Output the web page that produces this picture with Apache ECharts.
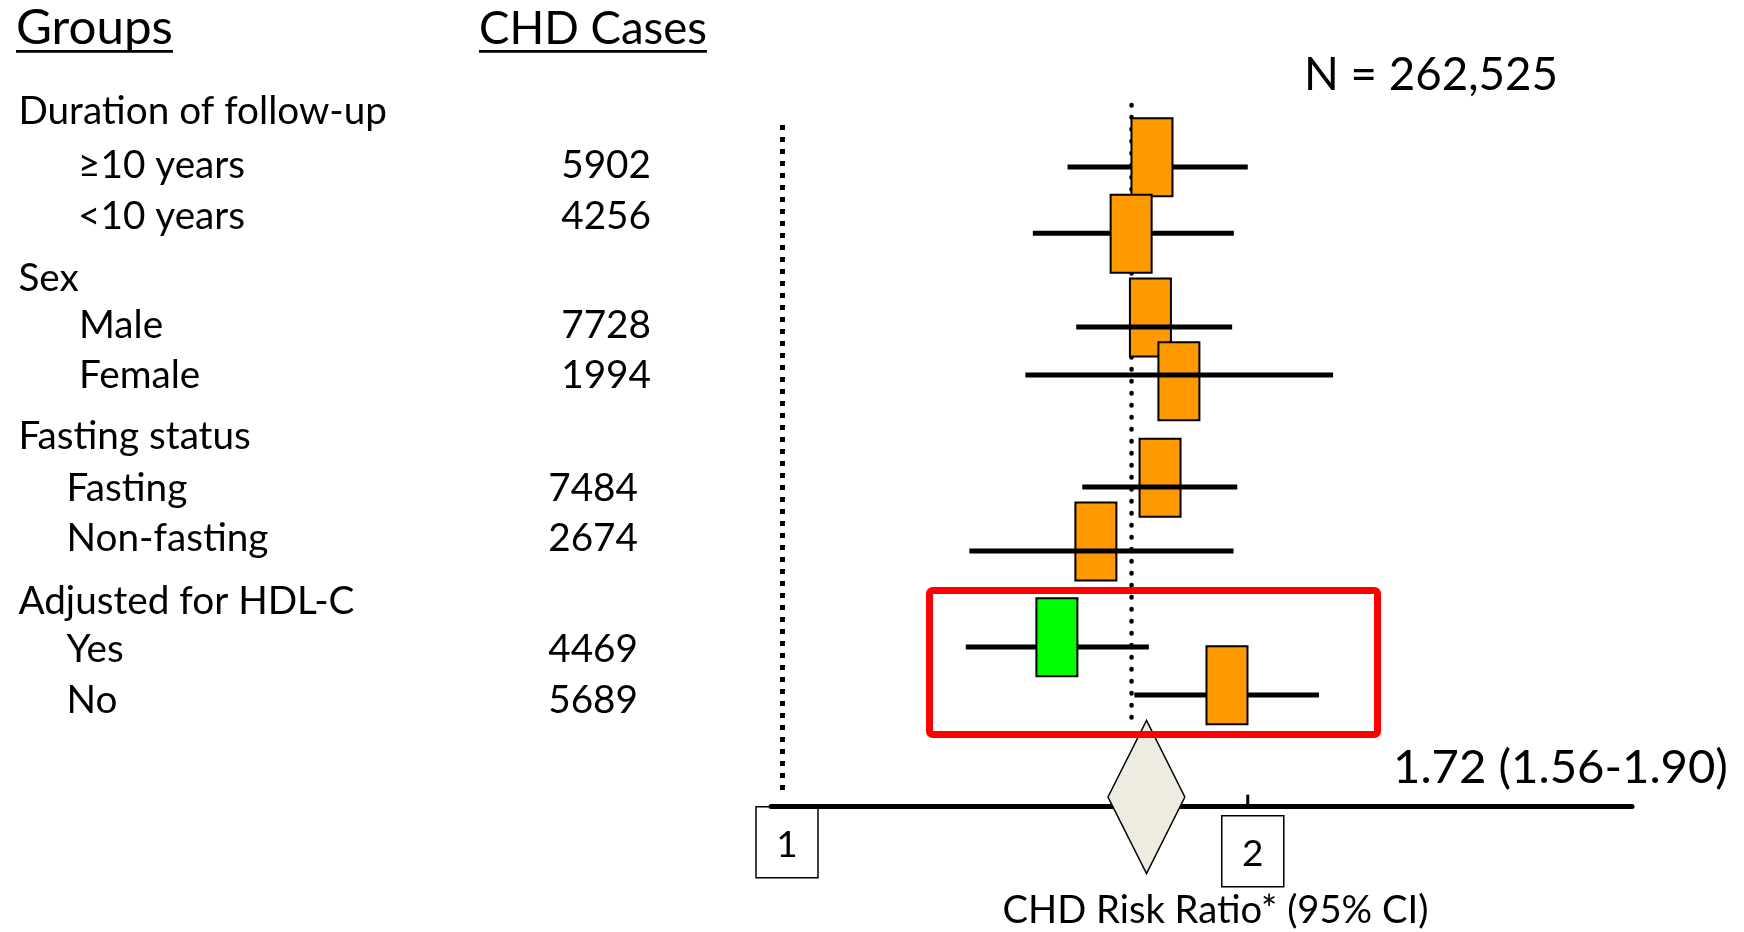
<!DOCTYPE html>
<html><head><meta charset="utf-8">
<script src="https://cdn.jsdelivr.net/npm/echarts@6/dist/echarts.min.js"></script>
<style>html,body{margin:0;padding:0;background:#fff}#c{width:1744px;height:932px}</style>
</head><body><div id="c"></div>
<script>
// ---------------- DATA ----------------
const groupNames = ['Duration of follow-up', 'Sex', 'Fasting status', 'Adjusted for HDL-C'];
const groupSizes = [2, 2, 2, 2];
const subgroups = ['\u226510 years', '<10 years', 'Male', 'Female', 'Fasting', 'Non-fasting', 'Yes', 'No'];
const chdCases = [5902, 4256, 7728, 1994, 7484, 2674, 4469, 5689];
const riskRatio = [1.734, 1.681, 1.730, 1.805, 1.755, 1.595, 1.505, 1.939];
const ciLower   = [1.529, 1.452, 1.549, 1.436, 1.563, 1.321, 1.314, 1.689];
const ciUpper   = [2.000, 1.959, 1.954, 2.271, 1.969, 1.958, 1.726, 2.224];
const pooledEstimate = 1.72;
const pooledCI = [1.56, 1.90];
const diamondSpan = [1.624, 1.821];
const totalN = 262525;
const xTickValues = [1, 2];
const refLineValues = [1, 1.682];
const headerTexts = ['Groups', 'CHD Cases'];
const axisTitle = 'CHD Risk Ratio* (95% CI)';

// ---------------- LAYOUT / STYLE ----------------
const FONT = 'Lato, "Open Sans", sans-serif';
const MID = 0.30;              // text "middle" offset above baseline (em)
const ROW0_Y = 111.2, ROW_H = 53.6;
const Y_MIN = -1, Y_MAX = 12.975;
const GRID_LEFT = 771, GRID_RIGHT_PX = 1632;
const X_MIN = 0.98301, X_MAX = 3.5451;
const ciRow  = [1.041, 2.278, 4.026, 4.922, 7.011, 8.205, 9.996, 10.892];
const boxRow = [0.858, 2.285, 3.849, 5.039, 6.838, 8.028, 9.815, 10.711];
const boxFill = ['#FF9900', '#FF9900', '#FF9900', '#FF9900', '#FF9900', '#FF9900', '#00FF00', '#FF9900'];
const lineOnTop = [false, false, true, true, true, true, false, false];
const BOX_W = 41, BOX_H = 78;
const refFrom = [0.257, -0.116], refTo = [12.664, 11.327];
const diamondRow = 12.795, DIAMOND_HALF_H = 76.5;
const tickBoxDx = [4.5, 5], tickBoxDrop = [0, 9], tickMarkShow = [false, true];
const labelBaseline = [123.3, 176.7, 228.3, 290, 337.3, 387.3, 448.3, 500, 550, 613.3, 660.7, 711.7];
const groupX = 18.4;
const subX = [78, 78, 79, 79, 66.6, 66.6, 66.6, 66.6];
const numRight = [651, 651, 651, 651, 638, 638, 638, 638];
const headX = [16, 479], headW = [157, 228];

const mctx = document.createElement('canvas').getContext('2d');
function textWidth(t, size) { mctx.font = size + 'px ' + FONT; return mctx.measureText(t).width; }
function fitSize(t, w) { return 100 * w / textWidth(t, 100); }

const bodySize = fitSize(groupNames[0], 368.7);
const nText = 'N = ' + totalN.toLocaleString('en-US');
const nSize = fitSize(nText, 254);
const sumText = pooledEstimate.toFixed(2) + ' (' + pooledCI[0].toFixed(2) + '-' + pooledCI[1].toFixed(2) + ')';
const sumSize = fitSize(sumText, 335);
const axisSize = fitSize(axisTitle, 426);
const tickSize = 37;

const gfx = [];
function addText(t, x, baseline, size, align) {
  gfx.push({type: 'text', z: 50, silent: true, style: {
    text: t, x: x, y: baseline - MID * size, font: size.toFixed(2) + 'px ' + FONT,
    fill: '#000', textAlign: align || 'left', textVerticalAlign: 'middle'}});
}
// headers with underline
headerTexts.forEach((h, k) => {
  const hs = fitSize(h, headW[k]);
  addText(h, headX[k], 43.3, hs, 'left');
  const w = textWidth(h, hs);
  gfx.push({type: 'line', z: 50, silent: true, shape: {x1: headX[k], y1: 51.3, x2: headX[k] + w, y2: 51.3},
    style: {stroke: '#000', lineWidth: 2.7}});
});
// left column rows
let li = 0, si = 0;
groupNames.forEach((g, gi) => {
  addText(g, groupX, labelBaseline[li++], bodySize, 'left');
  for (let k = 0; k < groupSizes[gi]; k++) {
    addText(subgroups[si], subX[si], labelBaseline[li], bodySize, 'left');
    addText(String(chdCases[si]), numRight[si], labelBaseline[li], bodySize, 'right');
    si++; li++;
  }
});
addText(nText, 1304, 89.3, nSize, 'left');
addText(sumText, 1393, 781.7, sumSize, 'left');
// highlight frame around HDL-C rows
gfx.push({type: 'rect', z: 100, silent: true, shape: {x: 929.5, y: 590.5, width: 448, height: 144, r: 3},
  style: {fill: 'transparent', stroke: '#FF0000', lineWidth: 7}});

const axisTextCenter = 922.7 - MID * axisSize;
const axisY = ROW0_Y + ROW_H * Y_MAX;
const nameGap = axisTextCenter - axisSize / 2 - axisY;

const rowData = riskRatio.map((rr, i) => [ciLower[i], rr, ciUpper[i], ciRow[i], boxRow[i]]);
const refData = refLineValues.map((v, i) => [v, refFrom[i], refTo[i]]);
const diamondData = [[diamondSpan[0], pooledEstimate, diamondSpan[1], diamondRow]];
const tickData = xTickValues.map((v, i) => [v, Y_MAX]);

const chart = echarts.init(document.getElementById('c'), null, {renderer: 'canvas'});
chart.setOption({
  animation: false,
  backgroundColor: '#fff',
  grid: {left: GRID_LEFT, top: ROW0_Y + ROW_H * Y_MIN, width: GRID_RIGHT_PX - GRID_LEFT,
         height: ROW_H * (Y_MAX - Y_MIN), containLabel: false, outerBoundsMode: 'none'},
  xAxis: {type: 'log', logBase: 2, min: X_MIN, max: X_MAX,
    axisLine: {show: true, onZero: false, lineStyle: {color: '#000', width: 5}},
    axisTick: {show: false}, axisLabel: {show: false}, splitLine: {show: false},
    name: axisTitle, nameLocation: 'middle', nameGap: nameGap,
    nameTextStyle: {fontFamily: FONT, fontSize: axisSize, color: '#000', padding: [0, 0, 0, 28]}},
  yAxis: {type: 'value', inverse: true, min: Y_MIN, max: Y_MAX, show: false},
  graphic: {elements: gfx},
  series: [
    {type: 'custom', name: 'reference lines', z: 1, silent: true, data: refData, encode: {x: 0, y: [1, 2]},
      renderItem: function (params, api) {
        const i = params.dataIndex;
        const a = api.coord([api.value(0), api.value(1)]);
        const b = api.coord([api.value(0), api.value(2)]);
        const st = i === 0
          ? {stroke: '#000', lineWidth: 5, lineDash: [5, 7], lineCap: 'butt'}
          : {stroke: '#000', lineWidth: 4.5, lineDash: [0.5, 11.5], lineCap: 'round'};
        return {type: 'line', shape: {x1: a[0], y1: a[1], x2: b[0], y2: b[1]}, style: st};
      }},
    {type: 'custom', name: 'subgroups', z: 3, silent: true, data: rowData, encode: {x: [0, 1, 2], y: [3, 4]},
      renderItem: function (params, api) {
        const i = params.dataIndex;
        const lo = api.coord([api.value(0), api.value(3)]);
        const hi = api.coord([api.value(2), api.value(3)]);
        const c = api.coord([api.value(1), api.value(4)]);
        const line = {type: 'line', shape: {x1: lo[0], y1: lo[1], x2: hi[0], y2: hi[1]},
          style: {stroke: '#000', lineWidth: 5}};
        const box = {type: 'rect', shape: {x: c[0] - BOX_W / 2, y: c[1] - BOX_H / 2, width: BOX_W, height: BOX_H},
          style: {fill: boxFill[i], stroke: '#000', lineWidth: 2}};
        return {type: 'group', children: lineOnTop[i] ? [box, line] : [line, box]};
      }},
    {type: 'custom', name: 'pooled', z: 4, silent: true, data: diamondData, encode: {x: [0, 1, 2], y: 3},
      renderItem: function (params, api) {
        const l = api.coord([api.value(0), api.value(3)]);
        const m = api.coord([api.value(1), api.value(3)]);
        const r = api.coord([api.value(2), api.value(3)]);
        return {type: 'polygon', shape: {points: [[l[0], l[1]], [m[0], m[1] - DIAMOND_HALF_H], [r[0], r[1]], [m[0], m[1] + DIAMOND_HALF_H]]},
          style: {fill: '#EEECE1', stroke: '#000', lineWidth: 1.5}};
      }},
    {type: 'custom', name: 'ticks', z: 4, silent: true, data: tickData, encode: {x: 0, y: 1},
      renderItem: function (params, api) {
        const i = params.dataIndex;
        const p = api.coord([api.value(0), api.value(1)]);
        const cx = p[0] + tickBoxDx[i], top = p[1] + tickBoxDrop[i];
        const ch = [
          {type: 'rect', shape: {x: cx - 31, y: top, width: 62, height: 71},
            style: {fill: 'transparent', stroke: '#000', lineWidth: 1.5}},
          {type: 'text', style: {text: String(xTickValues[i]), x: cx, y: top + 38,
            font: tickSize + 'px ' + FONT, fill: '#000', textAlign: 'center', textVerticalAlign: 'middle'}}
        ];
        if (tickMarkShow[i]) ch.push({type: 'line', shape: {x1: p[0], y1: p[1] - 12, x2: p[0], y2: p[1]},
          style: {stroke: '#000', lineWidth: 3}});
        return {type: 'group', children: ch};
      }}
  ]
});
</script></body></html>
